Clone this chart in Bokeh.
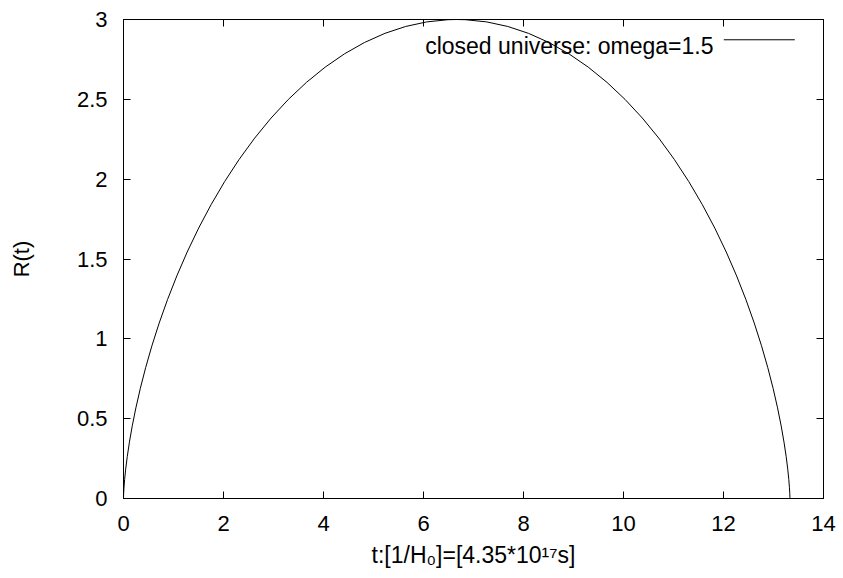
from bokeh.plotting import figure
from bokeh.models import (LinearAxis, FixedTicker, Range1d, Label, Arrow,
                          CustomJSTickFormatter)
from bokeh.embed import file_html
from bokeh.resources import INLINE

# ---- data (t in 1/H0, R(t)) ----
t_values = [0.0, 0.0004, 0.0028, 0.0095, 0.0224, 0.0436, 0.0750, 0.1183, 0.1753,
            0.2475, 0.3363, 0.4429, 0.5684, 0.7137, 0.8794, 1.0660, 1.2737,
            1.5026, 1.7525, 2.0231, 2.3137, 2.6236, 2.9518, 3.2971, 3.6582,
            4.0337, 4.4218, 4.8209, 5.2290, 5.6443, 6.0645, 6.4878, 6.6643,
            6.8408, 7.2641, 7.6843, 8.0996, 8.5077, 8.9068, 9.2949, 9.6704,
            10.0315, 10.3768, 10.7050, 11.0149, 11.3055, 11.5761, 11.8260,
            12.0549, 12.2626, 12.4492, 12.6149, 12.7602, 12.8857, 12.9923,
            13.0811, 13.1533, 13.2103, 13.2536, 13.2850, 13.3062, 13.3191,
            13.3258, 13.3282, 13.3286]
r_values = [0.0, 0.0075, 0.0299, 0.0670, 0.1184, 0.1836, 0.2620, 0.3527, 0.4549,
            0.5676, 0.6895, 0.8196, 0.9565, 1.0988, 1.2450, 1.3939, 1.5438,
            1.6933, 1.8408, 1.9849, 2.1242, 2.2573, 2.3828, 2.4994, 2.6061,
            2.7017, 2.7853, 2.8561, 2.9133, 2.9564, 2.9850, 2.9987, 3.0000,
            2.9987, 2.9850, 2.9564, 2.9133, 2.8561, 2.7853, 2.7017, 2.6061,
            2.4994, 2.3828, 2.2573, 2.1242, 1.9849, 1.8408, 1.6933, 1.5438,
            1.3939, 1.2450, 1.0988, 0.9565, 0.8196, 0.6895, 0.5676, 0.4549,
            0.3527, 0.2620, 0.1836, 0.1184, 0.0670, 0.0299, 0.0075, 0.0]

x_ticks = [0, 2, 4, 6, 8, 10, 12, 14]
y_ticks = [0, 0.5, 1, 1.5, 2, 2.5, 3]
y_tick_labels = ["0", "0.5", "1", "1.5", "2", "2.5", "3"]
series_name = "closed universe: omega=1.5"
x_title = "t:[1/H\u2080]=[4.35*10\u00b9\u2077s]"
y_title = "R(t)"

FONT = "Liberation Sans"
FS = "22px"

p = figure(width=843, height=578, output_backend="svg", toolbar_location=None,
           x_range=Range1d(0, 14), y_range=Range1d(0, 3),
           x_axis_location=None, y_axis_location=None,
           min_border_left=123, min_border_right=20,
           min_border_top=19, min_border_bottom=80)
p.background_fill_color = "white"
p.border_fill_color = "white"
p.outline_line_color = "black"
p.outline_line_width = 1
p.xgrid.visible = False
p.ygrid.visible = False

def style_axis(ax, show_labels):
    ax.axis_line_color = "black"
    ax.major_tick_line_color = "black"
    ax.major_tick_in = 7
    ax.major_tick_out = 0
    ax.minor_tick_line_color = None
    ax.major_label_text_font = FONT
    ax.major_label_text_font_size = FS
    ax.major_label_text_color = "black"
    ax.axis_label_text_font = FONT
    ax.axis_label_text_font_style = "normal"
    ax.axis_label_text_color = "black"
    if not show_labels:
        ax.formatter = CustomJSTickFormatter(code="return ''")
        ax.major_label_standoff = 0

xb = LinearAxis(ticker=FixedTicker(ticks=x_ticks), axis_label=x_title)
style_axis(xb, True)
xb.major_label_standoff = 17
xb.axis_label_text_font_size = "23px"
xb.axis_label_standoff = 8
p.add_layout(xb, "below")

yl = LinearAxis(ticker=FixedTicker(ticks=y_ticks), axis_label=y_title)
style_axis(yl, True)
yl.major_label_standoff = 16
yl.major_label_overrides = {k: v for k, v in zip(y_ticks, y_tick_labels)}
yl.axis_label_text_font_size = FS
yl.axis_label_standoff = 40
p.add_layout(yl, "left")

xt = LinearAxis(ticker=FixedTicker(ticks=x_ticks))
style_axis(xt, False)
p.add_layout(xt, "above")

yr = LinearAxis(ticker=FixedTicker(ticks=y_ticks))
style_axis(yr, False)
p.add_layout(yr, "right")

p.line(t_values, r_values, line_color="black", line_width=1)

# legend (gnuplot style: text then sample line)
p.add_layout(Label(x=11.8, y=2.833, text=series_name, text_align="right",
                   text_baseline="alphabetic", text_font=FONT, text_font_size="23px",
                   text_color="black"))
p.add_layout(Arrow(x_start=12.006, y_start=2.873, x_end=13.426, y_end=2.873,
                   start=None, end=None, line_color="black", line_width=1))

open("out.html", "w").write(file_html(p, INLINE))
